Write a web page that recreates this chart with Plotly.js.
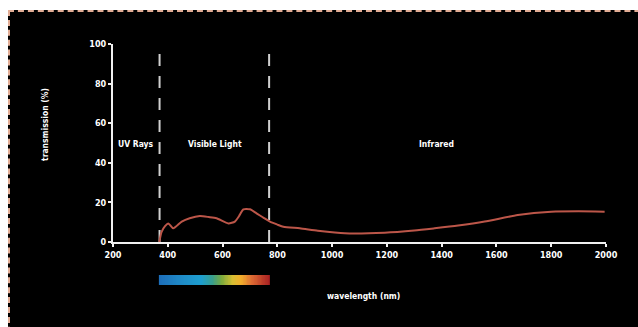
<!DOCTYPE html>
<html>
<head>
<meta charset="utf-8">
<script src="https://cdn.plot.ly/plotly-3.0.1.min.js"></script>
<style>
  html, body { margin: 0; padding: 0; background: #ffffff; width: 638px; height: 327px; overflow: hidden; }
  #frame { position: absolute; left: 8px; top: 10px; width: 700px; height: 400px; border-top: 2px dashed #e3ad95; border-left: 2px dashed #e3ad95; background: #000; }
  #chart { position: absolute; left: 10px; top: 12px; width: 628px; height: 315px; }
</style>
</head>
<body>
<div id="frame"></div>
<div id="chart"></div>
<script>
// Data
const wavelength = [369, 377, 390, 402, 420, 451, 480, 517, 550, 578, 621, 645, 660, 676, 700, 724, 750, 773, 800, 822, 882, 948, 1046, 1192, 1300, 1374, 1460, 1557, 1678, 1800, 1900, 1995];
const transmission = [0, 5, 8, 9.4, 6.9, 10.3, 12, 13.1, 12.6, 12, 9.4, 10.3, 13, 16.5, 16.5, 14.5, 12.2, 10.3, 8.8, 7.7, 6.9, 5.7, 4.4, 4.7, 5.8, 6.9, 8.3, 10.3, 13.6, 15.3, 15.5, 15.3];
const boundaries = [370, 770];
const regionLabels = ["UV Rays", "Visible Light", "Infrared"];
const regionCenters = [284, 572, 1382];
const spectrumNm = [];
for (let w = 370; w <= 770; w += 5) spectrumNm.push(w);
const xTicks = [200, 400, 600, 800, 1000, 1200, 1400, 1600, 1800, 2000];
const yTicks = [0, 20, 40, 60, 80, 100];

const FONT = '"DejaVu Sans Condensed", "Liberation Sans Narrow", "Liberation Sans", sans-serif';

const traces = [];
boundaries.forEach(b => {
  traces.push({
    x: [b, b], y: [0, 100], mode: 'lines', type: 'scatter',
    line: { color: '#d0d0d0', width: 2, dash: '12px,10px' },
    hoverinfo: 'skip', showlegend: false
  });
});
traces.push({
  x: wavelength, y: transmission, type: 'scatter', mode: 'lines',
  line: { color: '#bc5649', width: 2, shape: 'spline', smoothing: 0.6 },
  showlegend: false
});
traces.push({
  type: 'heatmap', x: spectrumNm, y: [0], z: [spectrumNm], xaxis: 'x', yaxis: 'y2',
  showscale: false, zsmooth: 'best',
  colorscale: [
    [0.0, '#1d6fba'], [0.2, '#1f8cc8'], [0.38, '#1e9fcf'], [0.48, '#3a9f8c'],
    [0.56, '#7aaa3e'], [0.66, '#d7bf33'], [0.74, '#f2ae2c'], [0.84, '#dd6a34'],
    [1.0, '#a81f22']
  ]
});

const annotations = regionLabels.map((t, i) => ({
  text: t, x: regionCenters[i], y: 49.5, xref: 'x', yref: 'y', showarrow: false,
  font: { family: FONT, size: 8.5, color: '#ffffff', weight: 'bold' }
}));
annotations.push({
  text: 'transmission (%)', textangle: -90, xref: 'paper', yref: 'paper',
  x: -0.152, y: 0.662, showarrow: false,
  font: { family: FONT, size: 8.5, color: '#ffffff', weight: 'bold' }
});
annotations.push({
  text: 'wavelength (nm)', xref: 'x', yref: 'paper', x: 1115, y: 0.0145,
  showarrow: false, font: { family: FONT, size: 8.5, color: '#ffffff', weight: 'bold' }
});

const layout = {
  width: 628, height: 315,
  margin: { l: 103, r: 32, t: 20, b: 20 },
  paper_bgcolor: '#000000', plot_bgcolor: '#000000',
  font: { family: FONT, color: '#ffffff', size: 9 },
  xaxis: {
    range: [200, 2000], tickvals: xTicks, ticktext: xTicks.map(String),
    showgrid: false, zeroline: false, showline: true, linecolor: '#f0f0f0', linewidth: 2,
    ticks: 'outside', ticklen: 3, tickwidth: 2, tickcolor: '#f0f0f0',
    tickfont: { family: FONT, size: 9, color: '#ffffff', weight: 'bold' },
    anchor: 'y', fixedrange: true
  },
  yaxis: {
    domain: [0.2364, 0.9564], range: [0, 100], tickvals: yTicks,
    showgrid: false, zeroline: false, showline: true, linecolor: '#f0f0f0', linewidth: 2,
    ticks: 'outside', ticklen: 3, tickwidth: 2, tickcolor: '#f0f0f0',
    tickfont: { family: FONT, size: 9, color: '#ffffff', weight: 'bold' },
    anchor: 'x'
  },
  yaxis2: {
    domain: [0.08, 0.1164], visible: false, showgrid: false, zeroline: false, anchor: 'x'
  },
  annotations: annotations,
  showlegend: false
};

Plotly.newPlot('chart', traces, layout, { displayModeBar: false, staticPlot: true });
</script>
</body>
</html>
